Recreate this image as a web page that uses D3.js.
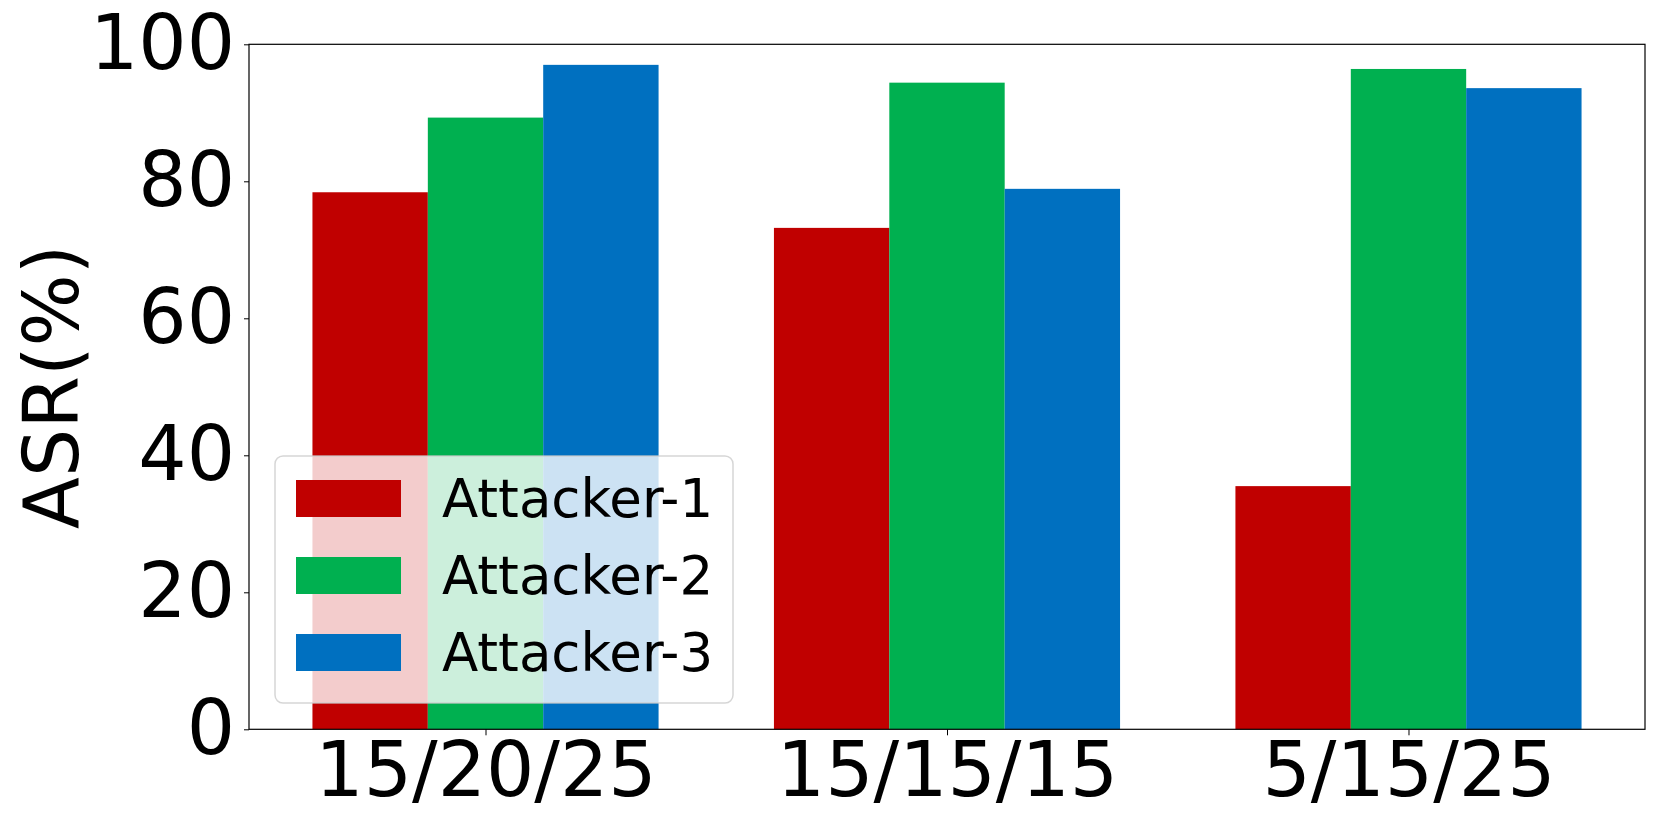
<!DOCTYPE html>
<html>
<head>
<meta charset="utf-8">
<title>ASR by attacker</title>
<style>
  body { margin: 0; background: #fff; }
  svg text { font-family: "DejaVu Sans", sans-serif; fill: #000; }
</style>
</head>
<body>
<script src="https://d3js.org/d3.v7.min.js"></script>
<script>
// chart data
var groups = ["15/20/25", "15/15/15", "5/15/25"];
var attackers = ["Attacker-1", "Attacker-2", "Attacker-3"];
var colors = ["#C00000", "#00B050", "#0070C0"];
var attacker1 = [78.4, 73.2, 35.5];
var attacker2 = [89.3, 94.4, 96.4];
var attacker3 = [97.0, 78.9, 93.6];
var yTicks = [0, 20, 40, 60, 80, 100];

var series = [attacker1, attacker2, attacker3];

var W = 1661, H = 829;
var plot = {left: 249, right: 1645, top: 44.3, bottom: 729.3};
var barW = 0.25;

var svg = d3.select("body").append("svg")
    .attr("width", W).attr("height", H);

// x in "group index" units like matplotlib, y in percent
var x = d3.scaleLinear().domain([-0.5125, 2.5125]).range([plot.left, plot.right]);
var y = d3.scaleLinear().domain([0, 100]).range([plot.bottom, plot.top]);

// bars
series.forEach(function(vals, s) {
  svg.append("g").selectAll("rect")
    .data(vals)
    .enter().append("rect")
      .attr("x", function(d, i) { return x(i + (s - 1) * barW - barW / 2); })
      .attr("width", x(barW) - x(0))
      .attr("y", function(d) { return y(d); })
      .attr("height", function(d) { return y(0) - y(d); })
      .attr("fill", colors[s]);
});

// axes
var yAxis = svg.append("g")
    .attr("transform", "translate(" + plot.left + ",0)")
    .call(d3.axisLeft(y).tickValues(yTicks).tickSize(5).tickPadding(9));
var xAxis = svg.append("g")
    .attr("transform", "translate(0," + plot.bottom + ")")
    .call(d3.axisBottom(x).tickValues([0, 1, 2]).tickFormat(function(d) { return groups[d]; })
      .tickSize(6).tickPadding(7));

[yAxis, xAxis].forEach(function(a) {
  a.select(".domain").remove();
  a.selectAll("line").attr("stroke", "#000").attr("stroke-width", 1);
  a.selectAll("text").attr("font-size", 76).attr("font-family", "DejaVu Sans").attr("fill", "#000");
});

// frame
svg.append("rect")
    .attr("x", plot.left).attr("y", plot.top)
    .attr("width", plot.right - plot.left).attr("height", plot.bottom - plot.top)
    .attr("fill", "none").attr("stroke", "#000").attr("stroke-width", 1.2);

// y label
svg.append("text")
    .attr("transform", "translate(78,386.8) rotate(-90)")
    .attr("text-anchor", "middle")
    .attr("font-size", 76)
    .text("ASR(%)");

// legend
var leg = svg.append("g");
leg.append("rect")
    .attr("x", 275).attr("y", 456).attr("width", 458).attr("height", 247)
    .attr("rx", 8).attr("ry", 8)
    .attr("fill", "#fff").attr("fill-opacity", 0.8)
    .attr("stroke", "#cccccc").attr("stroke-opacity", 0.8).attr("stroke-width", 1.5);

var rows = leg.selectAll(".item")
    .data(attackers)
    .enter().append("g")
      .attr("class", "item")
      .attr("transform", function(d, i) { return "translate(0," + (480 + i * 77) + ")"; });
rows.append("rect")
    .attr("x", 296).attr("y", 0).attr("width", 105).attr("height", 37)
    .attr("fill", function(d, i) { return colors[i]; });
rows.append("text")
    .attr("x", 442).attr("y", 37)
    .attr("font-size", 53)
    .text(function(d) { return d; });
</script>
</body>
</html>
